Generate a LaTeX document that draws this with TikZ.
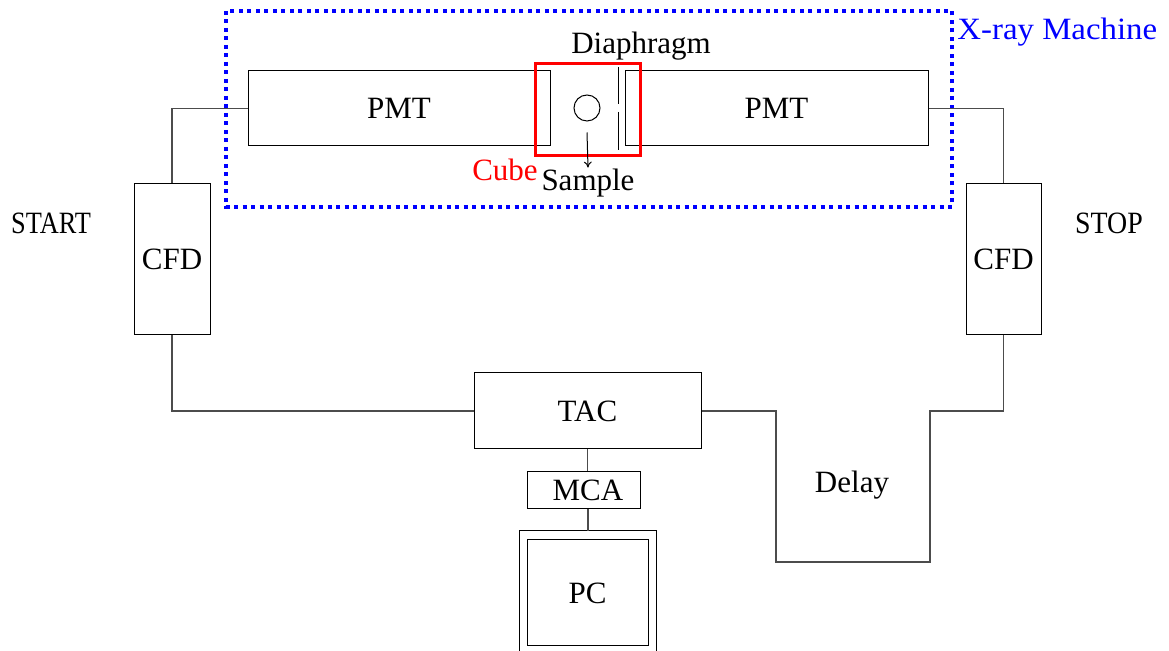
\documentclass[tikz,border=0pt]{standalone}
\usepackage{fontspec}
\setmainfont{Liberation Serif}
\newfontfamily\narrowfont[FakeStretch=0.85]{Liberation Serif}
\newfontfamily\narrowerfont[FakeStretch=0.9]{Liberation Serif}
\newfontfamily\widefont[FakeStretch=1.06]{Liberation Serif}
\usetikzlibrary{arrows.meta}
\newdimen\px \px=0.5pt
\begin{document}
\begin{tikzpicture}[x=0.5pt,y=-0.5pt,
  box/.style={draw=black,line width=0.5pt,inner sep=0pt,font=\fontsize{15.5}{18}\selectfont},
  wire/.style={draw=black!70,line width=0.8pt},
  lbl/.style={inner sep=0pt,font=\fontsize{15.5}{18}\selectfont}]
\useasboundingbox (0,0) rectangle (1169,651);
% X-ray machine frame
\draw[blue,line width=1.6pt,dash pattern=on 2pt off 2.25pt] (226,11) rectangle (952,207);
\node[lbl,blue,anchor=west,font=\fontsize{15.5}{18}\widefont] (xray) at (957,32) {X-ray Machine};
% PMTs
\node[box,minimum width=302\px,minimum height=75\px] (pmtL) at (399,108.5) {PMT};
\node[box,minimum width=303\px,minimum height=75\px] (pmtR) at (776.5,108.5) {PMT};
% cube
\node[draw=red,line width=1.5pt,inner sep=0pt,minimum width=105\px,minimum height=92\px] (cube) at (587.5,110) {};
\node[lbl,red] (cubelbl) at (505,170) {Cube};
% sample
\node[draw=black,line width=0.5pt,circle,inner sep=0pt,minimum size=26\px] (smp) at (587,108) {};
\node[lbl] (smplbl) at (588,183) {Sample};
\draw[line width=0.5pt,-{To[length=3pt,width=4pt]}] ([yshift=-11\px]smp.south) -- ([yshift=1\px]smplbl.north);
% diaphragm
\draw[line width=0.5pt] (618,67) -- (618,104) (618,112) -- (618,150);
\node[lbl] (diaph) at (641,46) {Diaphragm};
% CFDs
\node[box,minimum width=76\px,minimum height=151\px] (cfdL) at (172,259.5) {CFD};
\node[box,minimum width=75\px,minimum height=151\px] (cfdR) at (1003.5,259.5) {CFD};
\node[lbl,font=\fontsize{15.5}{18}\narrowfont] (start) at (51,223) {START};
\node[lbl,font=\fontsize{15.5}{18}\narrowerfont] (stop) at (1109,223) {STOP};
% TAC, MCA, PC
\node[box,minimum width=227\px,minimum height=76\px] (tac) at (587.5,411) {TAC};
\node[box,minimum width=113\px,minimum height=37\px] (mca) at (584,490.5) {\hspace*{8\px}MCA};
\node[box,minimum width=121\px,minimum height=106\px] (pc) at (587.5,593) {PC};
\draw[line width=0.5pt] (519,652) -- (519,531) -- (656,531) -- (656,652);
\coordinate (pctop) at (588,531);
\node[lbl] (delay) at (852,485) {Delay};
% wires
\coordinate (d1) at (776,411);
\coordinate (d2) at (776,562);
\coordinate (d3) at (930,562);
\coordinate (d4) at (930,411);
\draw[wire] (pmtL.west) -| (cfdL.north);
\draw[wire] (cfdL.south) |- (tac.west);
\draw[wire] (pmtR.east) -| (cfdR.north);
\draw[wire] (tac.east) -- (d1) -- (d2) -- (d3) -- (d4) -| (cfdR.south);
\draw[wire] (tac.south) -- (tac.south |- mca.north);
\draw[wire] (mca.south -| pctop) -- (pctop);
\end{tikzpicture}
\end{document}
